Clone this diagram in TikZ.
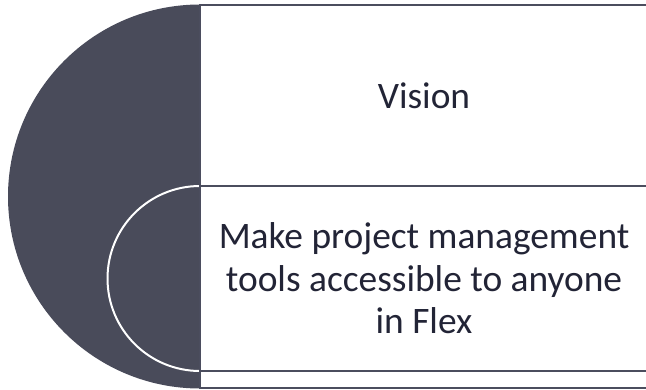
\documentclass[tikz,border=0pt]{standalone}
\usepackage{fontspec}
\setmainfont{Carlito}
\definecolor{darkslate}{HTML}{494B5A}
\definecolor{boxline}{HTML}{4B4D5E}
\definecolor{textnavy}{HTML}{222436}
\tikzset{
  panel/.style={draw=boxline, line width=1.8pt, fill=white, rectangle, inner sep=0pt,
    minimum width=448pt, text=textnavy, align=center,
    font=\fontsize{37.4pt}{42.5pt}\selectfont},
}
\begin{document}
\begin{tikzpicture}[x=1pt,y=1pt]
\useasboundingbox (0,0) rectangle (646,-389);
\clip (0,0) rectangle (646,-389);
\fill[darkslate] (200,-4.5) arc[start angle=90,end angle=270,radius=192pt] -- cycle;
\draw[white, line width=2pt] (200,-186) arc[start angle=90,end angle=270,radius=92.5pt];
\node[panel, minimum height=181pt] (vision) at (424,-95.5) {Vision};
\node[panel, minimum height=185pt] (mission) at (424,-278.5) {Make project management\\tools accessible to anyone\\in Flex};
\node[panel, minimum height=17pt] (extra) at (424,-379.5) {};
\end{tikzpicture}
\end{document}
